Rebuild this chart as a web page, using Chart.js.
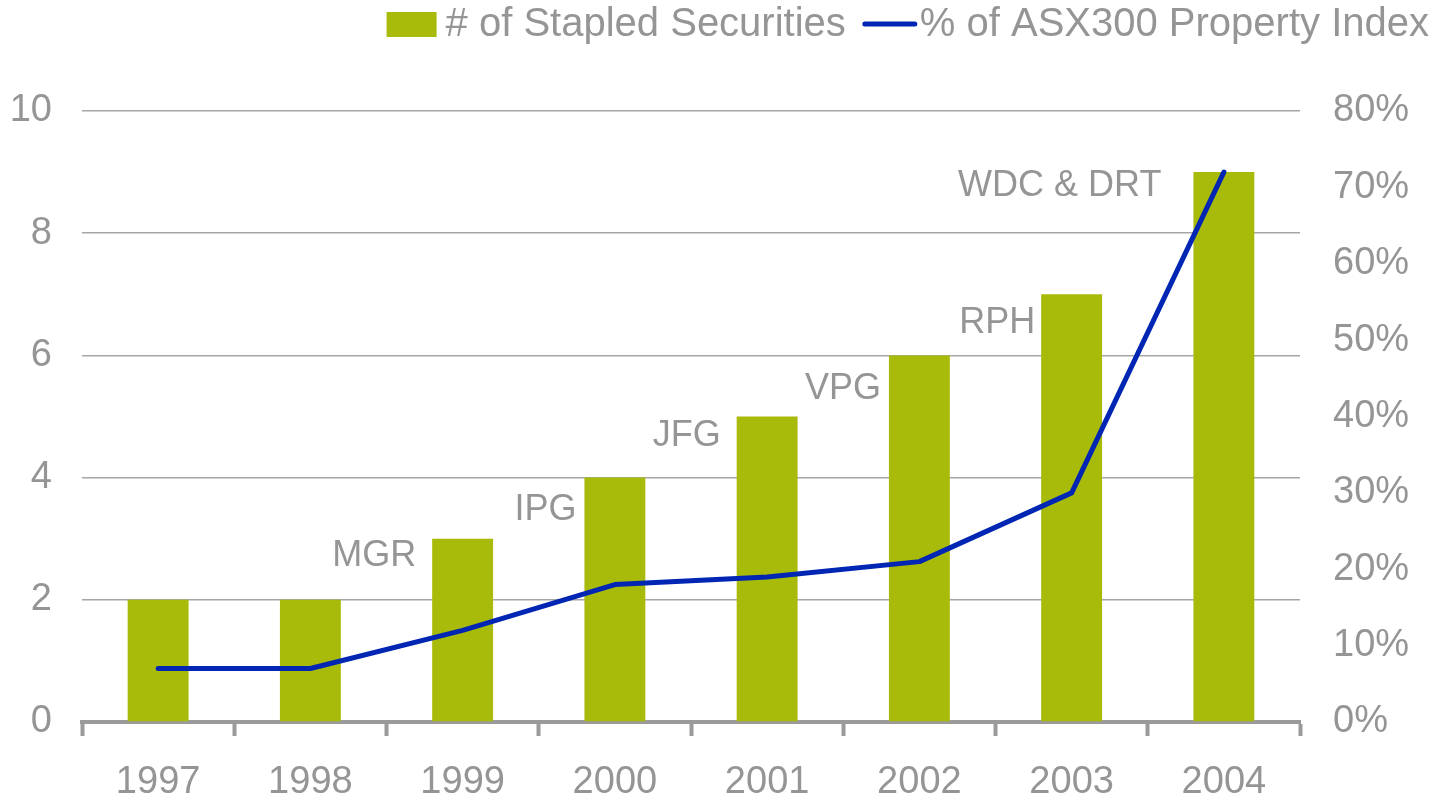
<!DOCTYPE html>
<html>
<head>
<meta charset="utf-8">
<script src="https://cdn.jsdelivr.net/npm/chart.js@4.4.1/dist/chart.umd.min.js"></script>
<style>
  html, body { margin: 0; padding: 0; background: #fff; }
  #wrap { width: 1450px; height: 801px; }
</style>
</head>
<body>
<div id="wrap"><canvas id="chart" width="1450" height="801"></canvas></div>
<script>
const years = ["1997", "1998", "1999", "2000", "2001", "2002", "2003", "2004"];
const stapledCount = [2, 2, 3, 4, 5, 6, 7, 9];
const propertyIndexPct = [7, 7, 12, 18, 19, 21, 30, 72];
const newListings = ["", "", "MGR", "IPG", "JFG", "VPG", "RPH", "WDC & DRT"];

const GREY = "#959595";
const GREEN = "#a8ba0a";
const BLUE = "#0026b3";
const FONT = "'Liberation Sans', Arial, sans-serif";

// labels sit up-left of each bar top; nudges
const labelNudge = [null, null, [-16, 17], [-8, 32], [-16, 20], [-8, 34], [-6, 29], [-32, 14]];

const barLabels = {
  id: "barLabels",
  afterDatasetsDraw(chart) {
    const ctx = chart.ctx;
    const meta = chart.getDatasetMeta(1);
    ctx.save();
    ctx.font = "36px " + FONT;
    ctx.fillStyle = GREY;
    ctx.textAlign = "right";
    ctx.textBaseline = "middle";
    meta.data.forEach((bar, i) => {
      if (!newListings[i]) return;
      const left = bar.x - bar.width / 2;
      const [dx, dy] = labelNudge[i];
      ctx.fillText(newListings[i], left + dx, bar.y + dy);
    });
    ctx.restore();
  }
};

const topLegend = {
  id: "topLegend",
  afterDraw(chart) {
    const ctx = chart.ctx;
    ctx.save();
    ctx.font = "40px " + FONT;
    ctx.textBaseline = "middle";
    ctx.textAlign = "left";
    const t1 = "# of Stapled Securities";
    const t2 = "% of ASX300 Property Index";
    const w1 = ctx.measureText(t1).width;
    const w2 = ctx.measureText(t2).width;
    const cy = 25;
    let x = 1429 - w2;
    ctx.fillStyle = GREY;
    ctx.fillText(t2, x, cy);
    x -= 57;
    ctx.strokeStyle = BLUE;
    ctx.lineWidth = 5;
    ctx.lineCap = "round";
    ctx.beginPath();
    ctx.moveTo(x + 2, cy - 1);
    ctx.lineTo(x + 52, cy - 1);
    ctx.stroke();
    x -= 17 + w1;
    ctx.fillText(t1, x, cy);
    x -= 59;
    ctx.fillStyle = GREEN;
    ctx.fillRect(x, 12, 50, 25);
    ctx.restore();
  }
};

new Chart(document.getElementById("chart"), {
  type: "bar",
  data: {
    labels: years,
    datasets: [
      {
        type: "line",
        label: "% of ASX300 Property Index",
        data: propertyIndexPct,
        yAxisID: "y1",
        borderColor: BLUE,
        borderWidth: 5,
        pointRadius: 0,
        borderCapStyle: "round",
        borderJoinStyle: "round",
        tension: 0
      },
      {
        label: "# of Stapled Securities",
        data: stapledCount,
        yAxisID: "y",
        backgroundColor: GREEN,
        barPercentage: 0.4,
        categoryPercentage: 1
      }
    ]
  },
  options: {
    responsive: false,
    animation: false,
    layout: { padding: { top: 111, left: 0, right: 0, bottom: 0 } },
    plugins: {
      legend: { display: false },
      tooltip: { enabled: false }
    },
    scales: {
      x: {
        grid: {
          offset: true,
          drawOnChartArea: false,
          drawTicks: true,
          tickLength: 14,
          tickWidth: 4,
          tickColor: "#9a9a9a"
        },
        border: { display: true, color: "#9a9a9a", width: 4 },
        ticks: { color: GREY, font: { family: FONT, size: 38 }, padding: 24 },
        afterFit(scale) { scale.height = 79; }
      },
      y: {
        position: "left",
        min: 0,
        max: 10,
        ticks: { stepSize: 2, color: GREY, font: { family: FONT, size: 38 }, padding: 30 },
        grid: { color: "#a6a6a6", lineWidth: 1.5, drawTicks: false },
        border: { display: false },
        afterFit(scale) { scale.width = 82; }
      },
      y1: {
        position: "right",
        min: 0,
        max: 80,
        ticks: {
          stepSize: 10,
          color: GREY,
          font: { family: FONT, size: 38 },
          padding: 33,
          callback: v => v + "%"
        },
        grid: { drawOnChartArea: false, drawTicks: false },
        border: { display: false },
        afterFit(scale) { scale.width = 150; }
      }
    }
  },
  plugins: [barLabels, topLegend]
});
</script>
</body>
</html>
